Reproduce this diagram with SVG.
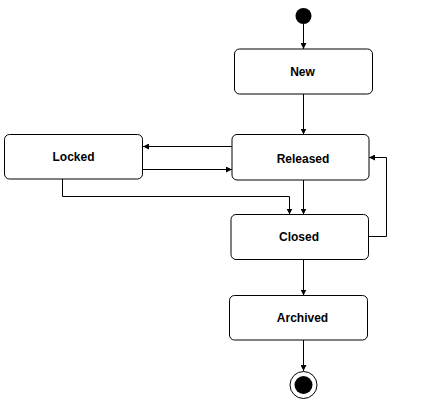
<svg xmlns="http://www.w3.org/2000/svg" width="432" height="410" viewBox="0 0 432 410">
<style>
.box{fill:#fff;stroke:#000;stroke-width:1}
.lbl{font-family:"Liberation Sans",Arial,sans-serif;font-weight:bold;font-size:12px;text-anchor:middle;fill:#000}
.edge{fill:none;stroke:#000;stroke-width:1}
</style>
<defs>
<marker id="ah" markerWidth="6" markerHeight="6" refX="6" refY="3" orient="auto" markerUnits="userSpaceOnUse">
<path d="M0,0 L6,3 L0,6 Z" fill="#000"/>
</marker>
</defs>
<rect width="432" height="410" fill="#fff"/>
<g id="connectors">
<path class="edge" d="M303.5,24 V49" marker-end="url(#ah)"/>
<path class="edge" d="M303.5,94 V134.5" marker-end="url(#ah)"/>
<path class="edge" d="M232,146.5 H143" marker-end="url(#ah)"/>
<path class="edge" d="M143,169.5 H232" marker-end="url(#ah)"/>
<path class="edge" d="M62.5,179 V196.5 H289.5 V214.5" marker-end="url(#ah)"/>
<path class="edge" d="M303.5,180 V214.5" marker-end="url(#ah)"/>
<path class="edge" d="M368.5,236.5 H386.5 V157.5 H369" marker-end="url(#ah)"/>
<path class="edge" d="M303.5,259.5 V295.5" marker-end="url(#ah)"/>
<path class="edge" d="M303.5,340 V371" marker-end="url(#ah)"/>
</g>
<g id="initial">
<circle cx="303.5" cy="16" r="8" fill="#000"/>
</g>
<g id="new">
<rect class="box" x="234.5" y="49" width="138" height="45" rx="5"/>
<text class="lbl" x="302.5" y="75.5">New</text>
</g>
<g id="released">
<rect class="box" x="232" y="134.5" width="137" height="45.5" rx="5"/>
<text class="lbl" x="303" y="162.5">Released</text>
</g>
<g id="locked">
<rect class="box" x="4.5" y="134.5" width="138" height="44.5" rx="5"/>
<text class="lbl" x="73.5" y="161">Locked</text>
</g>
<g id="closed">
<rect class="box" x="231" y="214.5" width="137.5" height="45" rx="5"/>
<text class="lbl" x="299" y="241">Closed</text>
</g>
<g id="archived">
<rect class="box" x="229.5" y="295.5" width="138" height="44.5" rx="5"/>
<text class="lbl" x="302.5" y="321.5">Archived</text>
</g>
<g id="final">
<circle cx="303.5" cy="385" r="13.5" fill="#fff" stroke="#000" stroke-width="1"/>
<circle cx="303.5" cy="385" r="9" fill="#000"/>
</g>
</svg>
